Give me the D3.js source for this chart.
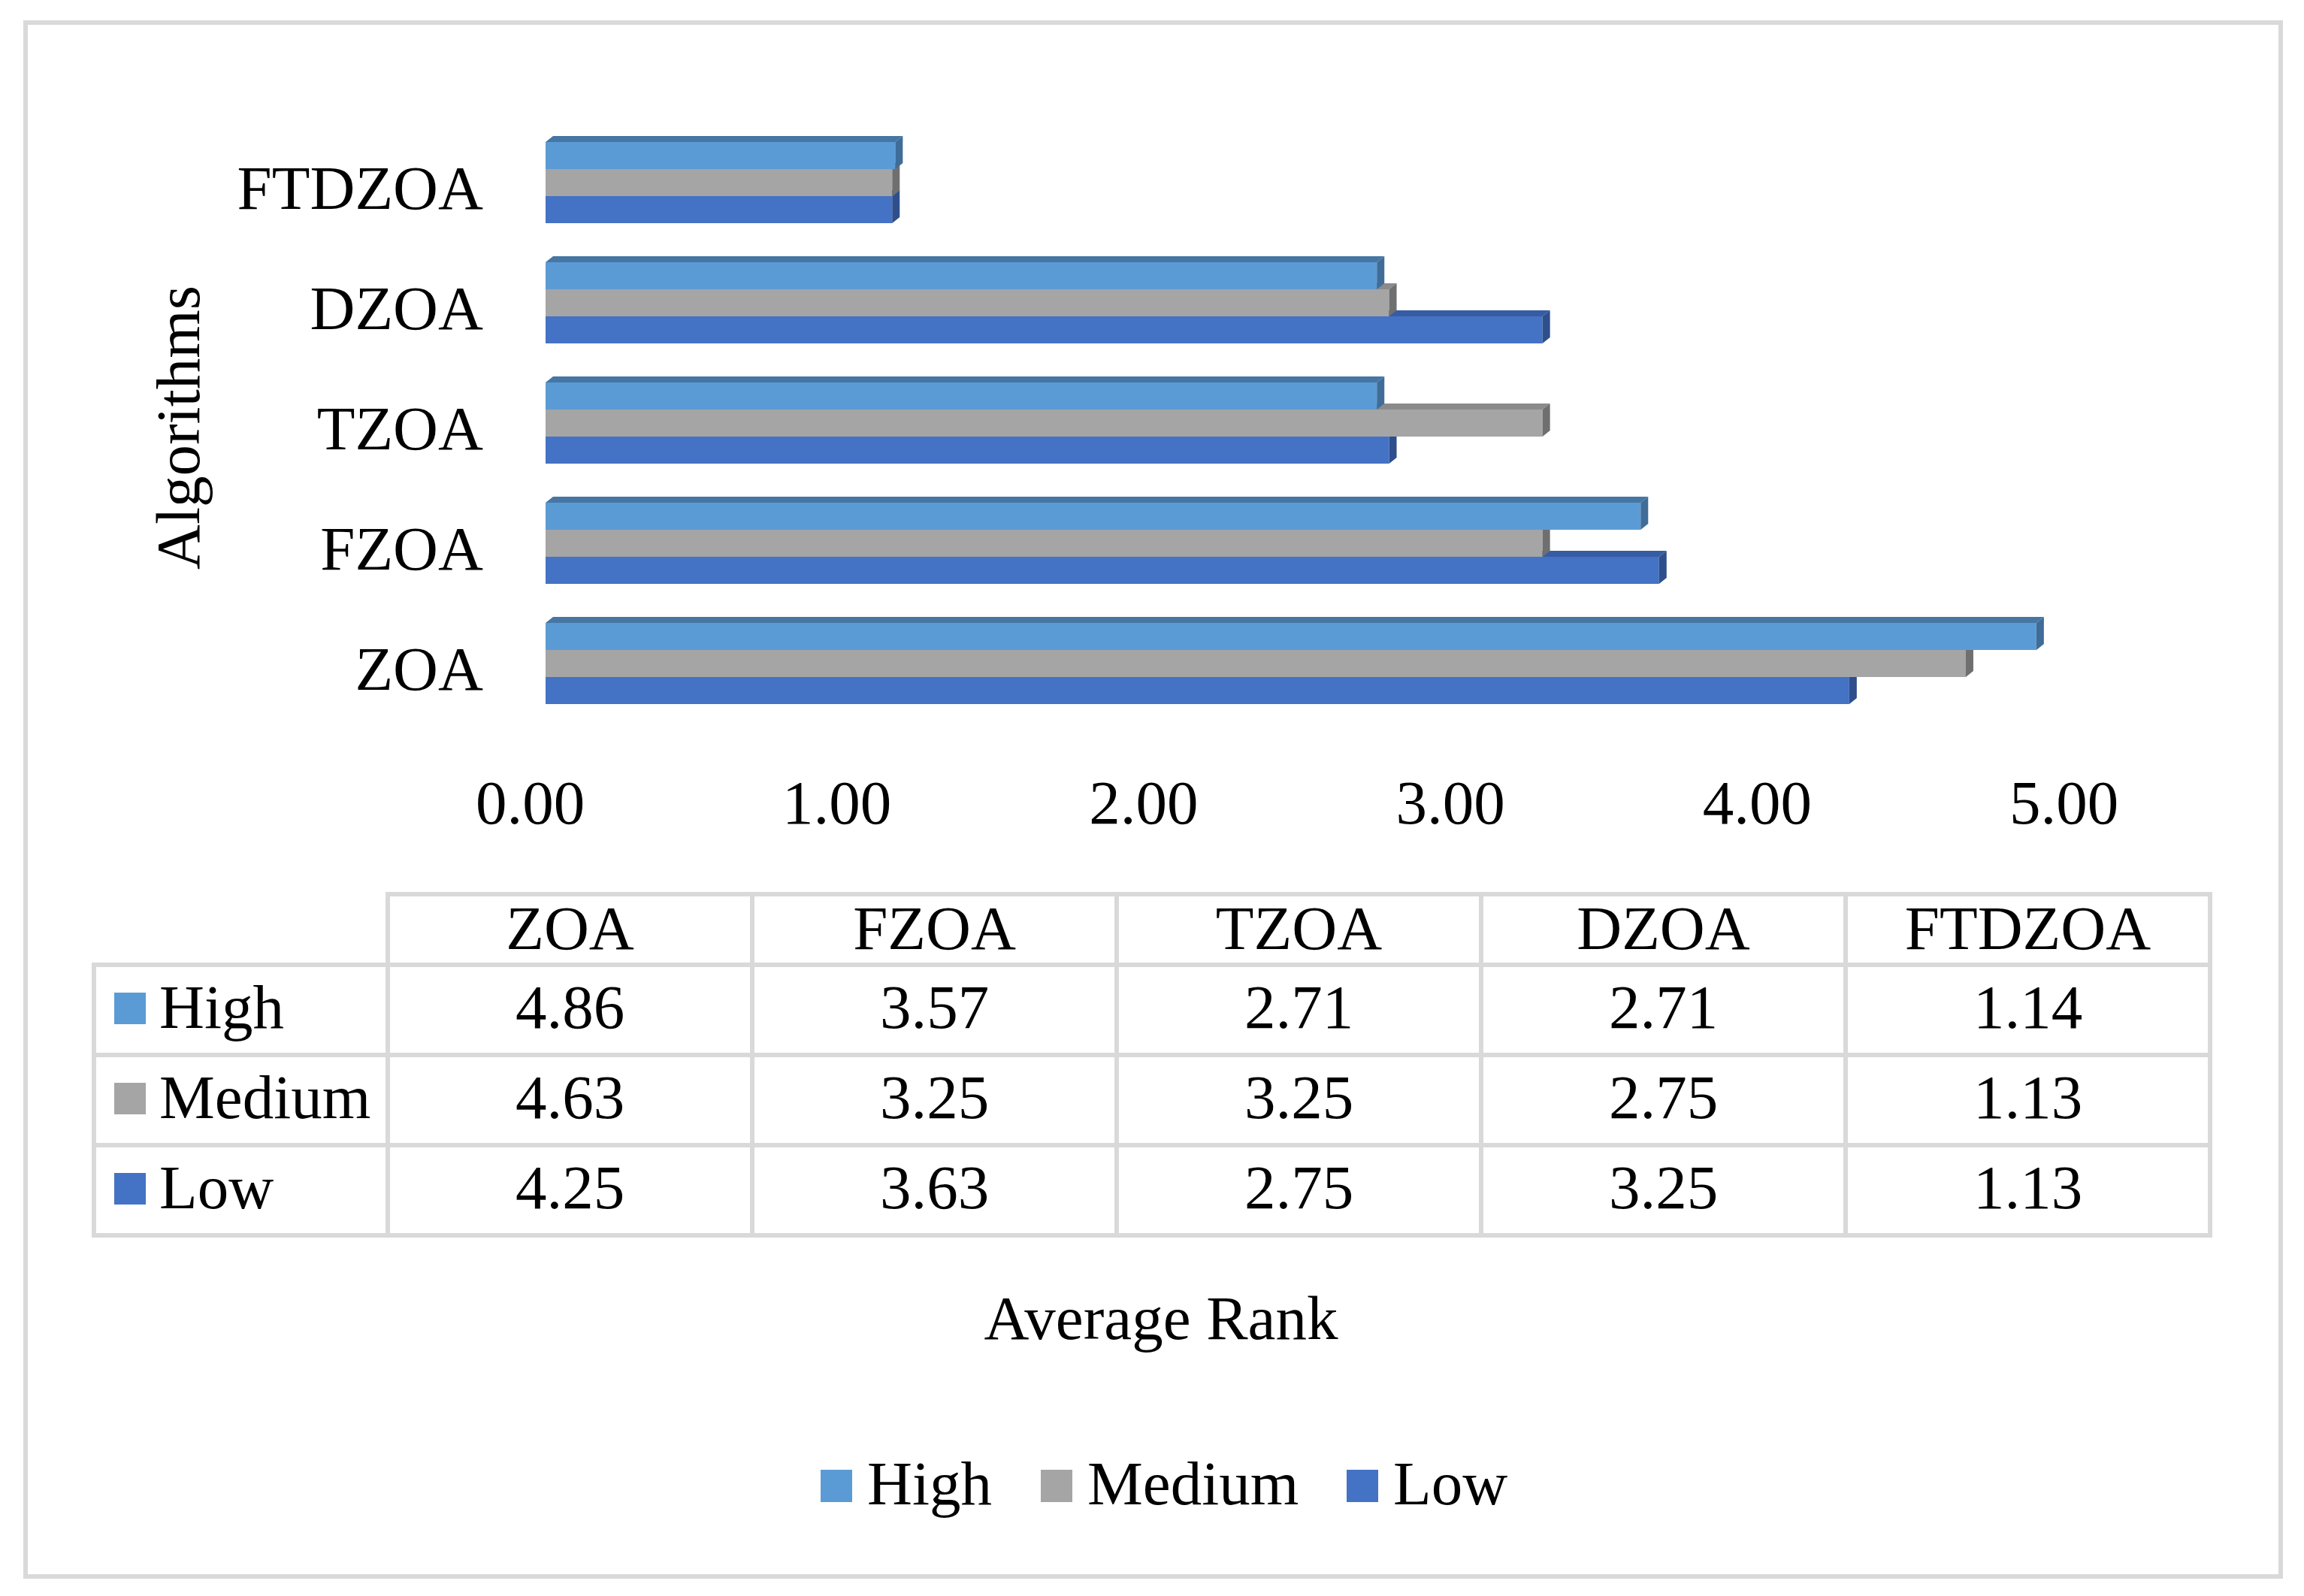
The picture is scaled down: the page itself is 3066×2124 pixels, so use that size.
<!DOCTYPE html>
<html>
<head>
<meta charset="utf-8">
<script src="https://cdn.jsdelivr.net/npm/d3@7"></script>
<style>
  html, body { margin: 0; padding: 0; background: #ffffff; }
  svg { display: block; }
  text { font-family: "Liberation Serif", "Times New Roman", serif; fill: #000; }
</style>
</head>
<body>
<svg id="chart" width="3066" height="2124"></svg>
<script>
// ---- data ----
const categories = ["ZOA", "FZOA", "TZOA", "DZOA", "FTDZOA"];
const seriesNames = ["High", "Medium", "Low"];
const highValues = [4.86, 3.57, 2.71, 2.71, 1.14];
const mediumValues = [4.63, 3.25, 3.25, 2.75, 1.13];
const lowValues = [4.25, 3.63, 2.75, 3.25, 1.13];
const xTicks = [0, 1, 2, 3, 4, 5];
const xTitle = "Average Rank";
const yTitle = "Algorithms";

const seriesValues = { High: highValues, Medium: mediumValues, Low: lowValues };
const colors = {
  High:   { front: "#5B9BD5", top: "#4676A3", side: "#3F6D98" },
  Medium: { front: "#A5A5A5", top: "#8A8A8A", side: "#6F6F6F" },
  Low:    { front: "#4472C4", top: "#365DA3", side: "#2E4F8C" }
};

const svg = d3.select("#chart");
const FONT = 83;

// background + frame
svg.append("rect").attr("width", 3066).attr("height", 2124).attr("fill", "#fff");
svg.append("rect").attr("x", 34).attr("y", 30).attr("width", 3001).attr("height", 2068)
  .attr("fill", "none").attr("stroke", "#D9D9D9").attr("stroke-width", 6);

// scales
const x = d3.scaleLinear().domain([0, 5]).range([726, 2767]);
const y = d3.scaleBand().domain(categories.slice().reverse()).range([137, 989])
  .paddingInner(0.325).paddingOuter(0.325);
const ySub = d3.scaleBand().domain(seriesNames).range([0, y.bandwidth()]);

const dx = 10, dy = 8;

// bars (draw Low first, then Medium, then High so upper bars cover lower top faces)
const barsG = svg.append("g");
const drawOrder = ["Low", "Medium", "High"];
categories.forEach((cat, ci) => {
  drawOrder.forEach(s => {
    const v = seriesValues[s][ci];
    const x0 = x(0), x1 = x(v);
    const y0 = y(cat) + ySub(s);
    const h = ySub.bandwidth();
    const g = barsG.append("g");
    g.append("rect").attr("x", x0).attr("y", y0).attr("width", x1 - x0).attr("height", h)
      .attr("fill", colors[s].front);
    g.append("polygon")
      .attr("points", [[x0, y0], [x0 + dx, y0 - dy], [x1 + dx, y0 - dy], [x1, y0]].map(p => p.join(",")).join(" "))
      .attr("fill", colors[s].top);
    g.append("polygon")
      .attr("points", [[x1, y0], [x1 + dx, y0 - dy], [x1 + dx, y0 + h - dy], [x1, y0 + h]].map(p => p.join(",")).join(" "))
      .attr("fill", colors[s].side);
  });
});

// x axis (labels only)
const xAxis = d3.axisBottom(x).tickValues(xTicks).tickFormat(d3.format(".2f")).tickSize(0);
const xg = svg.append("g").attr("transform", "translate(-21,1096)").call(xAxis);
xg.select(".domain").remove();
xg.selectAll("text").attr("y", 0).attr("dy", 0)
  .style("font-size", FONT + "px").style("font-family", "Liberation Serif, serif").attr("fill", "#000");

// y axis (category labels)
const yAxis = d3.axisLeft(y).tickSize(0);
const yg = svg.append("g").attr("transform", "translate(643,0)").call(yAxis);
yg.select(".domain").remove();
yg.selectAll("text").attr("x", 0).attr("dy", "0.33em").attr("text-anchor", "end")
  .attr("transform", "translate(0,8)")
  .style("font-size", FONT + "px").style("font-family", "Liberation Serif, serif").attr("fill", "#000");

// y title
svg.append("text").attr("transform", "translate(265,569) rotate(-90)")
  .attr("text-anchor", "middle").style("font-size", FONT + "px").text(yTitle);

// data table
const tableX0 = 125, tableX1 = 516, tableX2 = 2941;
const rowTop = 1190, headerBottom = 1284, rowH = 120;
const col = d3.scaleBand().domain(categories).range([tableX1, tableX2]);
const rowY = d3.scaleBand().domain(seriesNames).range([headerBottom, headerBottom + 3 * rowH]);
const tg = svg.append("g");
const lineStyle = sel => sel.attr("stroke", "#D9D9D9").attr("stroke-width", 6).attr("stroke-linecap", "square");
// horizontal lines
lineStyle(tg.append("line").attr("x1", tableX1).attr("x2", tableX2).attr("y1", rowTop).attr("y2", rowTop));
[headerBottom, ...seriesNames.map(s => rowY(s) + rowH)].forEach(yy => {
  lineStyle(tg.append("line").attr("x1", tableX0).attr("x2", tableX2).attr("y1", yy).attr("y2", yy));
});
// vertical lines
lineStyle(tg.append("line").attr("x1", tableX0).attr("x2", tableX0).attr("y1", headerBottom).attr("y2", headerBottom + 3 * rowH));
[tableX1, ...categories.map(c => col(c) + col.bandwidth())].forEach(xx => {
  lineStyle(tg.append("line").attr("x1", xx).attr("x2", xx).attr("y1", rowTop).attr("y2", headerBottom + 3 * rowH));
});
// header texts
categories.forEach(c => {
  tg.append("text").attr("x", col(c) + col.bandwidth() / 2).attr("y", 1263)
    .attr("text-anchor", "middle").style("font-size", FONT + "px").text(c);
});
// rows
seriesNames.forEach(s => {
  const base = rowY(s) + 84;
  tg.append("rect").attr("x", 152).attr("y", base - 47).attr("width", 42).attr("height", 42)
    .attr("fill", colors[s].front);
  tg.append("text").attr("x", 212).attr("y", base).style("font-size", FONT + "px").text(s);
  categories.forEach((c, ci) => {
    tg.append("text").attr("x", col(c) + col.bandwidth() / 2).attr("y", base)
      .attr("text-anchor", "middle").style("font-size", FONT + "px")
      .text(d3.format(".2f")(seriesValues[s][ci]));
  });
});

// x title
svg.append("text").attr("x", 1545).attr("y", 1782).attr("text-anchor", "middle")
  .style("font-size", FONT + "px").text(xTitle);

// legend
const legendX = { High: 1092, Medium: 1385, Low: 1792 };
const lg = svg.append("g");
seriesNames.forEach(s => {
  lg.append("rect").attr("x", legendX[s]).attr("y", 1956).attr("width", 42).attr("height", 43)
    .attr("fill", colors[s].front);
  lg.append("text").attr("x", legendX[s] + 62).attr("y", 2002).style("font-size", FONT + "px").text(s);
});
</script>
</body>
</html>
